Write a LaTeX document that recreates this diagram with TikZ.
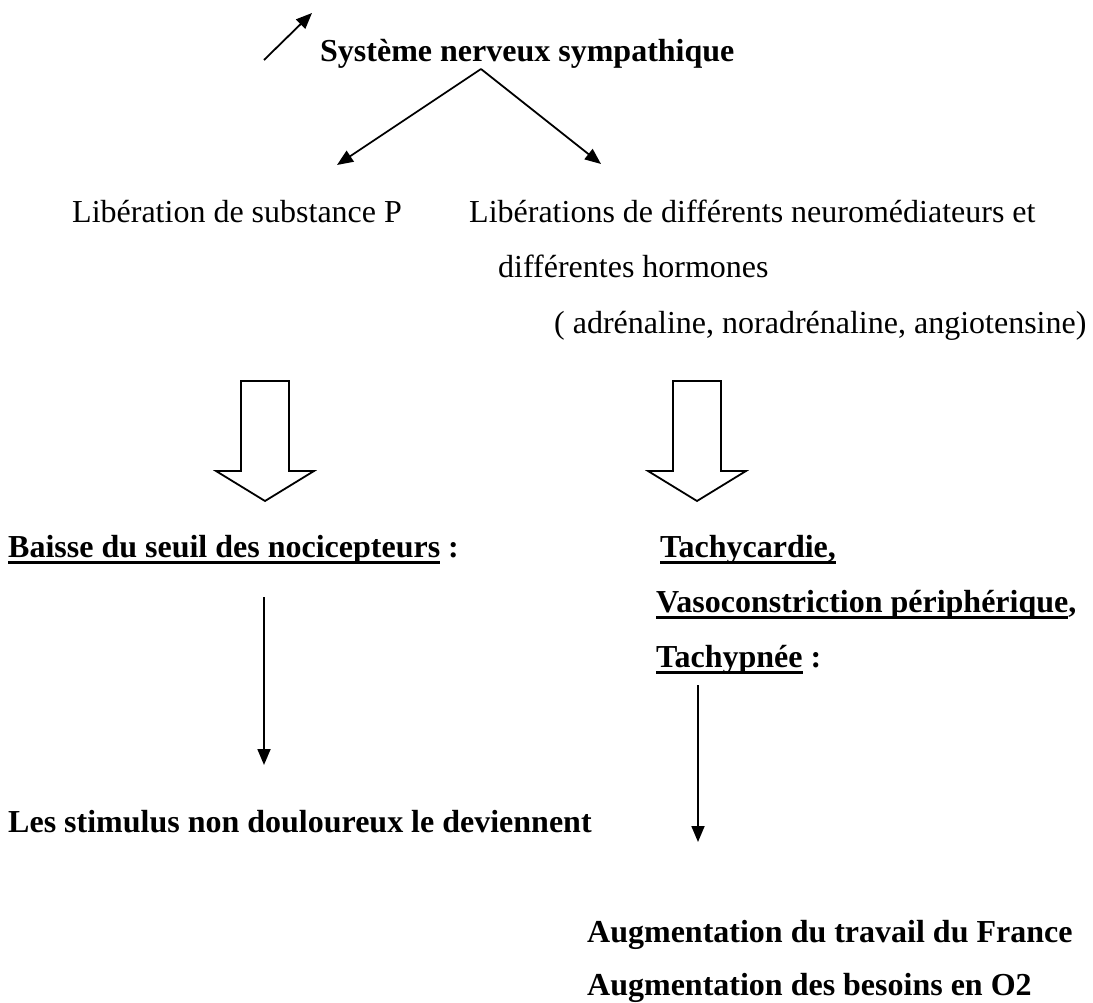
\documentclass[tikz,border=0pt]{standalone}
\usepackage{fontspec}
\setmainfont{Liberation Serif}
\usetikzlibrary{arrows.meta}
% underline drawn as a rule just under the baseline
\newcommand\uline[1]{\setbox0\hbox{#1}\rlap{\rule[-6.5pt]{\wd0}{2.4pt}}\box0\relax}
\begin{document}
\begin{tikzpicture}[x=1pt,y=-1pt,
  txt/.style={anchor=base west, inner sep=0pt, font=\fontsize{32}{36}\selectfont},
  btxt/.style={anchor=base west, inner sep=0pt, font=\fontsize{32}{36}\selectfont\bfseries},
  thin/.style={-{Triangle[length=16pt,width=13pt]}, line width=1.8pt},
  blockarrow/.style={draw, line width=1.8pt, fill=white, line join=miter}
]
\useasboundingbox (0,0) rectangle (1093,1003);

% title and the small "increase" arrow
\node[btxt] (sns) at (320,62) {Système nerveux sympathique};
\coordinate (upA) at (264,60);
\coordinate (upB) at (312,13);
\draw[thin] (upA) -- (upB);

% split into two branches
\coordinate (apex) at (481,69);
\coordinate (tipL) at (337,165);
\coordinate (tipR) at (601,164);
\draw[thin] (apex) -- (tipL);
\draw[thin] (apex) -- (tipR);

% released substances
\node[txt] (subP) at (72,223) {Libération de substance P};
\node[txt] (neuro1) at (469,223) {Libérations de différents neuromédiateurs et};
\node[txt] (neuro2) at (498,278) {différentes hormones};
\node[txt] (neuro3) at (554,333) {( adrénaline, noradrénaline, angiotensine)};

% hollow block arrows
\foreach \cx in {265, 697}{
  \draw[blockarrow] (\cx-24,381) -- (\cx+24,381) -- (\cx+24,471) -- (\cx+49,471)
    -- (\cx,501) -- (\cx-49,471) -- (\cx-24,471) -- cycle;
}

% effects
\node[btxt] (seuil) at (8,557) {\uline{Baisse du seuil des nocicepteurs} :};
\node[btxt] (tachy) at (660,557) {\uline{Tachycardie,}};
\node[btxt] (vaso) at (656,612) {\uline{Vasoconstriction périphérique},};
\node[btxt] (pnee) at (656,667) {\uline{Tachypnée} :};

\coordinate (vL1) at (264,597);
\coordinate (vL2) at (264,765);
\draw[thin] (vL1) -- (vL2);
\node[btxt] (stim) at (8,832) {Les stimulus non douloureux le deviennent};

\coordinate (vR1) at (698,685);
\coordinate (vR2) at (698,842);
\draw[thin] (vR1) -- (vR2);
\node[btxt] (aug1) at (587,942) {Augmentation du travail du France};
\node[btxt] (aug2) at (587,995) {Augmentation des besoins en O2};
\end{tikzpicture}
\end{document}
